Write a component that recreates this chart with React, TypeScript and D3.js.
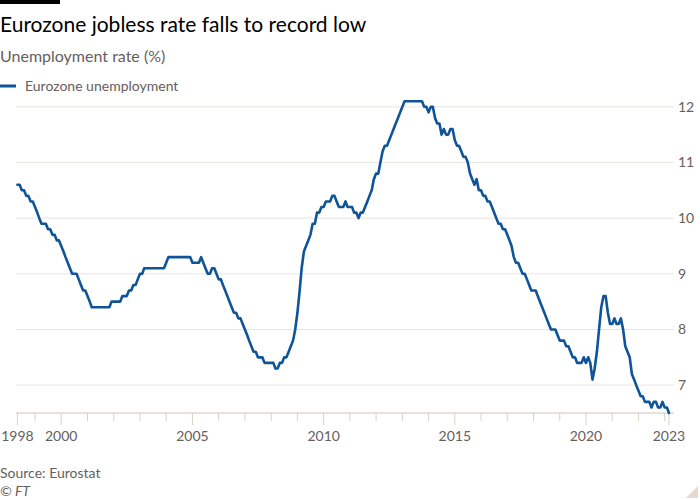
import React from "react";
import * as d3 from "d3";

const title = "Eurozone jobless rate falls to record low";
const subtitle = "Unemployment rate (%)";
const seriesName = "Eurozone unemployment";
const source = "Source: Eurostat";
const credit = "© FT";

// Monthly values, first month May 1998
const startYear = 1998;
const startMonth = 4; // 0-based: May
const values1998 = [10.6, 10.6, 10.5, 10.5, 10.4, 10.4, 10.3, 10.3];
const values1999 = [10.2, 10.1, 10.0, 9.9, 9.9, 9.9, 9.8, 9.8, 9.7, 9.7, 9.6, 9.6];
const values2000 = [9.5, 9.4, 9.3, 9.2, 9.1, 9.0, 9.0, 9.0, 8.9, 8.8, 8.7, 8.7];
const values2001 = [8.6, 8.5, 8.4, 8.4, 8.4, 8.4, 8.4, 8.4, 8.4, 8.4, 8.4, 8.5];
const values2002 = [8.5, 8.5, 8.5, 8.5, 8.6, 8.6, 8.6, 8.7, 8.7, 8.8, 8.8, 8.9];
const values2003 = [9.0, 9.0, 9.1, 9.1, 9.1, 9.1, 9.1, 9.1, 9.1, 9.1, 9.1, 9.1];
const values2004 = [9.2, 9.3, 9.3, 9.3, 9.3, 9.3, 9.3, 9.3, 9.3, 9.3, 9.3, 9.3];
const values2005 = [9.2, 9.2, 9.2, 9.2, 9.3, 9.2, 9.1, 9.0, 9.0, 9.1, 9.1, 9.0];
const values2006 = [8.9, 8.9, 8.8, 8.7, 8.6, 8.5, 8.4, 8.3, 8.3, 8.2, 8.2, 8.1];
const values2007 = [8.0, 7.9, 7.8, 7.7, 7.6, 7.6, 7.5, 7.5, 7.5, 7.4, 7.4, 7.4];
const values2008 = [7.4, 7.4, 7.3, 7.3, 7.4, 7.4, 7.5, 7.5, 7.6, 7.7, 7.8, 8.0];
const values2009 = [8.3, 8.7, 9.1, 9.4, 9.5, 9.6, 9.7, 9.9, 9.9, 10.1, 10.1, 10.2];
const values2010 = [10.2, 10.3, 10.3, 10.3, 10.4, 10.4, 10.3, 10.2, 10.2, 10.2, 10.3, 10.2];
const values2011 = [10.2, 10.2, 10.1, 10.1, 10.0, 10.1, 10.1, 10.2, 10.3, 10.4, 10.5, 10.7];
const values2012 = [10.8, 10.8, 11.0, 11.2, 11.3, 11.3, 11.4, 11.5, 11.6, 11.7, 11.8, 11.9];
const values2013 = [12.0, 12.1, 12.1, 12.1, 12.1, 12.1, 12.1, 12.1, 12.1, 12.1, 12.0, 12.0];
const values2014 = [11.9, 12.0, 12.0, 11.8, 11.7, 11.7, 11.5, 11.6, 11.5, 11.5, 11.6, 11.6];
const values2015 = [11.4, 11.3, 11.3, 11.2, 11.1, 11.1, 11.0, 10.8, 10.7, 10.6, 10.7, 10.5];
const values2016 = [10.5, 10.4, 10.4, 10.3, 10.3, 10.2, 10.1, 10.0, 9.9, 9.9, 9.8, 9.8];
const values2017 = [9.7, 9.6, 9.5, 9.3, 9.2, 9.2, 9.1, 9.0, 9.0, 8.9, 8.8, 8.7];
const values2018 = [8.7, 8.7, 8.6, 8.5, 8.4, 8.3, 8.2, 8.1, 8.0, 8.0, 8.0, 7.9];
const values2019 = [7.8, 7.8, 7.8, 7.7, 7.7, 7.6, 7.5, 7.5, 7.4, 7.4, 7.4, 7.5];
const values2020 = [7.4, 7.5, 7.4, 7.1, 7.3, 7.6, 8.0, 8.4, 8.6, 8.6, 8.3, 8.1];
const values2021 = [8.1, 8.2, 8.1, 8.1, 8.2, 8.0, 7.7, 7.6, 7.5, 7.2, 7.1, 7.0];
const values2022 = [6.9, 6.8, 6.8, 6.7, 6.7, 6.7, 6.6, 6.7, 6.7, 6.6, 6.6, 6.7];
const values2023 = [6.6, 6.6, 6.5];

const yTicks = [7, 8, 9, 10, 11, 12];
const labelYears = [2000, 2005, 2010, 2015, 2020];

const allValues = [
  ...values1998, ...values1999, ...values2000, ...values2001, ...values2002,
  ...values2003, ...values2004, ...values2005, ...values2006, ...values2007,
  ...values2008, ...values2009, ...values2010, ...values2011, ...values2012,
  ...values2013, ...values2014, ...values2015, ...values2016, ...values2017,
  ...values2018, ...values2019, ...values2020, ...values2021, ...values2022,
  ...values2023,
];

type Pt = { date: Date; value: number };
const data: Pt[] = allValues.map((v, i) => ({
  date: new Date(Date.UTC(startYear, startMonth + i, 1)),
  value: v,
}));

const FONT = "Lato, 'Noto Sans', sans-serif";
const GREY = "#66605c";
const GRID = "#ebe5e0";
const BLUE = "#0f5499";

export default function App() {
  const x = d3
    .scaleUtc()
    .domain([new Date(Date.UTC(1998, 0, 1)), new Date(Date.UTC(2023, 0, 1))])
    .range([8.8, 664.7]);
  const y = d3.scaleLinear().domain([6.5, 12]).range([413, 106.8]);

  const line = d3
    .line<Pt>()
    .x((d) => x(d.date))
    .y((d) => y(d.value));

  const first = data[0].date;
  const last = data[data.length - 1].date;
  const yearTicks = d3.utcYear.range(
    new Date(Date.UTC(1999, 0, 1)),
    new Date(Date.UTC(2024, 0, 1))
  );
  const gridX0 = 16;
  const gridX1 = 674;

  return (
    <svg
      width={700}
      height={500}
      style={{ position: "absolute", left: 0, top: 0, background: "#fff" }}
      fontFamily={FONT}
    >
      <rect x={0} y={0} width={60} height={4} fill="#000" />
      <text x={0} y={32} fontSize={21} fill="#000">
        {title}
      </text>
      <text x={0} y={62} fontSize={16} fill={GREY}>
        {subtitle}
      </text>
      <line x1={0} x2={16} y1={86} y2={86} stroke={BLUE} strokeWidth={3} />
      <text x={25} y={91} fontSize={14} fill={GREY}>
        {seriesName}
      </text>

      {yTicks.map((t) => (
        <g key={t}>
          <line x1={gridX0} x2={gridX1} y1={y(t)} y2={y(t)} stroke={GRID} strokeWidth={1} />
          <text x={678} y={y(t) + 5} fontSize={14} fill={GREY}>
            {t}
          </text>
        </g>
      ))}

      <line x1={gridX0} x2={gridX1} y1={y(6.5)} y2={y(6.5)} stroke="#e0d8d1" strokeWidth={1.5} />
      {yearTicks.map((d) => {
        const major = labelYears.includes(d.getUTCFullYear());
        return (
          <line
            key={d.toISOString()}
            x1={x(d)}
            x2={x(d)}
            y1={y(6.5)}
            y2={y(6.5) + (major ? 12 : 8)}
            stroke="#d9d0c8"
            strokeWidth={1}
          />
        );
      })}
      {[first, last].map((d) => (
        <line
          key={"e" + d.toISOString()}
          x1={x(d)}
          x2={x(d)}
          y1={y(6.5)}
          y2={y(6.5) + 12}
          stroke="#d9d0c8"
          strokeWidth={1}
        />
      ))}
      {labelYears.map((yr) => {
        const d = new Date(Date.UTC(yr, 0, 1));
        return (
          <text key={yr} x={x(d)} y={441} fontSize={14} fill={GREY} textAnchor="middle">
            {yr}
          </text>
        );
      })}
      <text x={x(first)} y={441} fontSize={14} fill={GREY} textAnchor="middle">
        {first.getUTCFullYear()}
      </text>
      <text x={x(last)} y={441} fontSize={14} fill={GREY} textAnchor="middle">
        {last.getUTCFullYear()}
      </text>

      <path
        d={line(data) || ""}
        fill="none"
        stroke={BLUE}
        strokeWidth={2.6}
        strokeLinejoin="round"
        strokeLinecap="round"
      />

      <text x={0} y={478} fontSize={14} fill={GREY}>
        {source}
      </text>
      <text x={0} y={496} fontSize={14} fill={GREY} fontStyle="italic">
        {credit}
      </text>
      <polygon points="686,498 698,486 698,498" fill="#e6dad0" />
    </svg>
  );
}
